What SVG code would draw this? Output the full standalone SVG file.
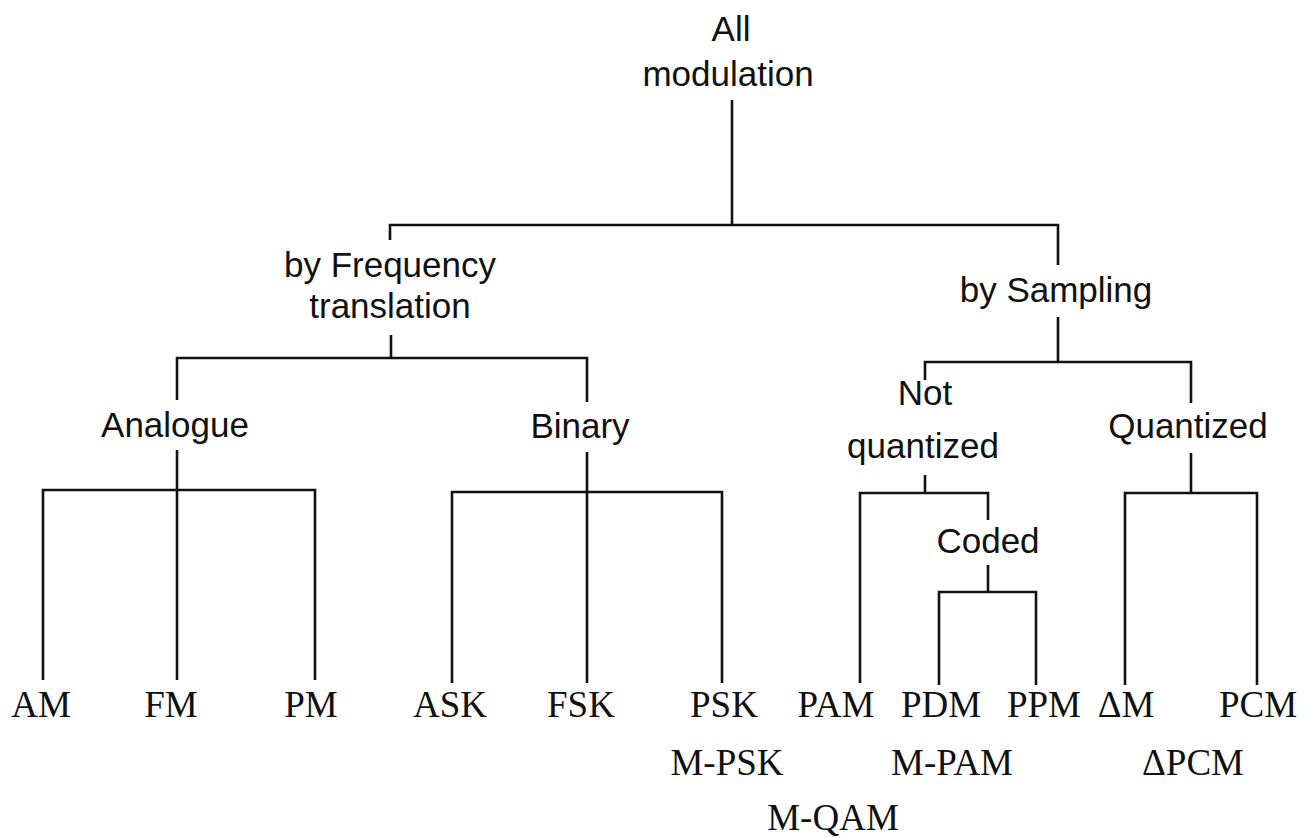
<svg xmlns="http://www.w3.org/2000/svg" width="1305" height="838" viewBox="0 0 1305 838">
<style>
.bg{fill:#fff}
.ln{fill:none;stroke:#111;stroke-width:2.6;stroke-linejoin:miter;stroke-linecap:butt}
.w{font-family:"Liberation Sans",Arial,sans-serif;font-size:35px;fill:#111;text-anchor:middle}
.c{font-family:"Liberation Serif","Times New Roman",serif;font-size:37px;fill:#111;text-anchor:middle}
</style>
<rect class="bg" x="0" y="0" width="1305" height="838"/>
<g id="connectors">
<path class="ln" d="M732,100 V225"/>
<path class="ln" d="M390,240 V225 H1058 V265"/>
<path class="ln" d="M391,335 V358"/>
<path class="ln" d="M177,400 V358 H587 V402"/>
<path class="ln" d="M177,450 V490"/>
<path class="ln" d="M43,680 V490 H315 V680"/>
<path class="ln" d="M177,490 V680"/>
<path class="ln" d="M587,452 V492"/>
<path class="ln" d="M452,683 V492 H722 V683"/>
<path class="ln" d="M587,492 V683"/>
<path class="ln" d="M1058,317 V362"/>
<path class="ln" d="M925,380 V362 H1191 V403"/>
<path class="ln" d="M925,475 V493"/>
<path class="ln" d="M860,683 V493 H988 V520"/>
<path class="ln" d="M988,565 V592"/>
<path class="ln" d="M939,685 V592 H1036 V685"/>
<path class="ln" d="M1191,453 V493"/>
<path class="ln" d="M1125,685 V493 H1257 V685"/>
</g>
<g id="all"><text class="w" x="731" y="41">All</text><text class="w" x="728" y="86">modulation</text></g>
<g id="freq"><text class="w" x="390" y="277">by Frequency</text><text class="w" x="390" y="318">translation</text></g>
<g id="sampling"><text class="w" x="1056" y="302">by Sampling</text></g>
<g id="analogue"><text class="w" x="175" y="437">Analogue</text></g>
<g id="binary"><text class="w" x="580" y="438">Binary</text></g>
<g id="notq"><text class="w" x="925" y="405">Not</text><text class="w" x="923" y="458">quantized</text></g>
<g id="quantized"><text class="w" x="1188" y="438">Quantized</text></g>
<g id="coded"><text class="w" x="988" y="553">Coded</text></g>
<g id="am"><text class="c" x="41" y="717">AM</text></g>
<g id="fm"><text class="c" x="171" y="717">FM</text></g>
<g id="pm"><text class="c" x="311" y="717">PM</text></g>
<g id="ask"><text class="c" x="450" y="717">ASK</text></g>
<g id="fsk"><text class="c" x="581" y="717">FSK</text></g>
<g id="psk"><text class="c" x="724" y="717">PSK</text><text class="c" x="727" y="775">M-PSK</text></g>
<g id="pam"><text class="c" x="836" y="717">PAM</text></g>
<g id="pdm"><text class="c" x="941" y="717">PDM</text></g>
<g id="ppm"><text class="c" x="1044" y="717">PPM</text></g>
<g id="mpam"><text class="c" x="952" y="775">M-PAM</text></g>
<g id="mqam"><text class="c" x="833" y="830">M-QAM</text></g>
<g id="dm"><text class="c" x="1126" y="717">ΔM</text></g>
<g id="pcm"><text class="c" x="1258" y="717">PCM</text></g>
<g id="dpcm"><text class="c" x="1193" y="775">ΔPCM</text></g>
</svg>
